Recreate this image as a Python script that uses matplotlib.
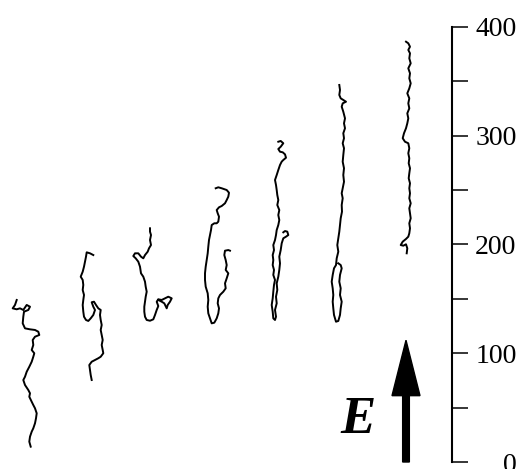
import numpy as np
import matplotlib
matplotlib.use('Agg')
import matplotlib.pyplot as plt
from matplotlib.patches import FancyArrow

plt.rcParams['font.family'] = ['Liberation Serif', 'DejaVu Serif']

# traced paths, x in arbitrary lateral units, y on the right-hand scale
x1 = [16.7, 15, 12.7, 16.7, 20, 23.3, 26.7, 30, 28.3, 24, 23.3, 22.7, 25, 30, 35, 38.3, 39.3, 35,
      32.7, 33.3, 31.7, 34.3, 33.3, 31.7, 29.3, 26.7, 25, 23.3, 25, 28.3, 30, 29.3, 31.7, 33.3,
      35, 36.7, 36, 35, 33.3, 31.7, 30, 29.3, 30.7]
y1 = [149.0, 144.4, 141.3, 140.4, 141.3, 139.8, 144.4, 142.8, 139.8, 138.2, 133.6, 127.5, 122.9,
      122.0, 121.4, 119.8, 116.8, 115.2, 112.2, 107.6, 103.0, 100.0, 96.8, 92.2, 87.6, 83.0,
      78.4, 75.4, 70.8, 66.2, 63.2, 60.0, 55.4, 52.4, 49.4, 44.8, 40.2, 35.6, 31.0, 27.9, 23.3,
      18.7, 14.1]

x2 = [93.3, 90, 86.7, 86, 85, 84, 82.7, 80.7, 82.7, 83.3, 82.7, 84, 83.3, 82.7, 83.3, 84, 86,
      88.3, 90.7, 93.3, 95, 93.3, 91.7, 94, 96, 98.3, 100.7, 100, 100.7, 101.7, 100.7, 101.7,
      102.7, 101.7, 102.7, 103.3, 100.7, 98.3, 95, 91.7, 89.3, 90, 90.7, 91.7]
y2 = [190.3, 191.9, 192.8, 188.8, 184.2, 179.6, 175.0, 170.4, 167.4, 162.8, 158.2, 153.6, 149.0,
      144.4, 138.2, 133.6, 130.6, 129.7, 132.1, 135.2, 139.8, 142.8, 146.9, 147.4, 144.4, 141.3,
      139.8, 135.2, 130.6, 126.0, 121.4, 116.8, 112.2, 107.6, 103.0, 100.0, 96.8, 95.4, 93.8,
      92.2, 89.2, 84.6, 80.0, 75.4]

x3 = [150, 150, 151, 150, 151, 149, 147.7, 145, 143.3, 141, 138.3, 135, 133.3, 135.7, 138.3, 140,
      141, 143.3, 145, 145.7, 146.7, 145.7, 145, 144.3, 144.3, 145, 146.7, 150, 153.3, 155, 156.7,
      158.3, 156.7, 158.3, 161.7, 165, 168.3, 171.7, 170, 167.7, 166.7, 164.3, 161.7, 158.3]
y3 = [214.9, 211.8, 208.7, 204.1, 199.5, 196.5, 193.4, 190.3, 187.3, 188.8, 191.9, 191.9, 189.4,
      187.3, 184.2, 179.6, 173.5, 170.4, 165.8, 161.2, 156.6, 152.0, 147.4, 142.8, 138.2, 133.6,
      130.6, 129.9, 131.2, 135.2, 139.8, 143.4, 147.4, 149.6, 149.0, 150.5, 152.0, 150.5, 147.4,
      144.4, 141.3, 145.9, 147.4, 149.0]

x4 = [215.7, 218.3, 221.7, 226.7, 229, 228.3, 226.7, 225, 221.7, 219, 216.7, 217.7, 219, 218.3,
      216.7, 214.3, 211.7, 211, 210, 209, 208.3, 207.7, 206.7, 205.7, 205, 205, 205.7, 207.7,
      208.3, 207.7, 208.3, 210, 211.7, 214.3, 216.7, 218.3, 219, 217.7, 218.3, 220, 223.3, 225.7,
      225, 226.7, 228.3, 225.7, 226.7, 225.7, 224.3, 225, 228.3, 230]
y4 = [251.7, 252.6, 251.7, 250.1, 247.6, 244.0, 240.9, 237.9, 235.4, 234.2, 231.7, 228.7, 225.6,
      221.0, 219.5, 219.5, 217.9, 213.3, 208.7, 204.1, 198.0, 191.9, 185.7, 179.6, 173.5, 167.4,
      161.2, 155.1, 149.0, 142.8, 136.7, 132.1, 127.5, 128.1, 132.1, 136.7, 141.3, 145.9, 150.5,
      153.6, 156.6, 159.7, 164.3, 168.9, 173.5, 176.6, 181.1, 185.7, 190.3, 194.3, 194.9, 194.3]

x5 = [278.3, 280.7, 283.3, 280.7, 278.3, 280, 282.7, 285, 286, 283.3, 281.7, 280, 278.3, 276.7,
      275, 276, 276.7, 277.3, 278.3, 277.3, 279.3, 278.3, 279.3, 278.3, 276.7, 276, 275, 273.3,
      274, 272.7, 273.3, 272.7, 274, 273.3, 275, 274, 273.3, 272.7, 271.7, 272.7, 273.3, 275,
      276, 275, 276.7, 276, 277.3, 276.7, 278.3, 279.3, 280, 279.3, 280.7, 281.7, 283.3, 286,
      288.3, 287.3, 285, 283.3]
y5 = [294.5, 295.2, 293.1, 289.9, 287.8, 285.3, 284.8, 282.9, 279.8, 277.7, 276.2, 273.1, 268.5,
      263.9, 259.3, 254.7, 250.1, 245.5, 240.9, 236.3, 231.7, 227.1, 222.5, 217.9, 213.3, 208.7,
      204.1, 199.5, 194.9, 190.3, 185.7, 181.1, 176.6, 172.0, 167.4, 162.8, 156.6, 150.5, 144.4,
      138.2, 132.1, 130.6, 133.6, 139.8, 145.9, 152.0, 158.2, 164.3, 170.4, 176.6, 182.7, 188.8,
      194.9, 201.1, 205.7, 207.2, 208.7, 211.8, 212.4, 211.2]

x6 = [339.3, 340, 339.3, 340.7, 343.3, 346, 342.7, 341.7, 343.3, 345, 344, 345, 343.3, 344, 342.7,
      344, 343.3, 342.7, 344, 343.3, 344, 342.7, 341.7, 342.7, 341.7, 342, 340.7, 340, 339.3,
      338.3, 337.3, 338.3, 336.7, 336, 334, 332.7, 331.7, 332.7, 333.3, 332.7, 333.3, 334, 336,
      338.3, 340, 340.7, 341.7, 340, 340.7, 339.3, 340, 341.7, 340.7, 338.3]
y6 = [346.7, 342.1, 337.5, 334.4, 332.9, 331.3, 329.8, 326.7, 322.1, 316.0, 311.4, 306.9, 302.3,
      297.7, 293.1, 288.5, 282.3, 276.1, 270.1, 263.9, 257.7, 251.7, 247.1, 242.5, 236.3, 230.2,
      224.1, 217.9, 211.8, 205.7, 199.5, 193.4, 187.3, 181.1, 178.1, 172.0, 165.8, 159.7, 153.6,
      147.4, 141.3, 135.2, 129.0, 129.7, 135.2, 141.3, 147.4, 153.6, 159.7, 165.8, 172.0, 178.1,
      181.1, 182.7]

x7 = [406, 408.3, 410, 408.3, 410, 409.3, 410.7, 408.3, 410, 409.3, 410.7, 409.3, 407.3, 409.3,
      408.3, 409.3, 407.3, 408.3, 407.3, 406, 404, 402.7, 405, 408.3, 409.3, 408.3, 409.3, 408.7,
      410, 409.3, 408.7, 410, 409.3, 410, 409.3, 410.7, 409.3, 410, 410.7, 409.3, 410, 409.3,
      408.3, 406, 402.7, 400.7, 403.3, 406, 407.3, 406.7]
y7 = [386.5, 385.0, 381.9, 378.9, 375.8, 371.2, 366.6, 362.0, 357.4, 352.8, 348.2, 343.6, 339.0,
      334.4, 329.8, 325.2, 320.6, 316.0, 311.4, 306.9, 302.3, 297.7, 294.5, 293.1, 288.5, 283.9,
      279.3, 274.7, 270.1, 265.5, 260.9, 256.3, 251.7, 247.1, 242.5, 237.9, 233.3, 228.7, 224.1,
      219.5, 214.9, 210.3, 207.2, 205.1, 202.6, 199.5, 198.9, 200.2, 196.5, 191.9]

traces = [(x1, y1), (x2, y2), (x3, y3), (x4, y4), (x5, y5), (x6, y6), (x7, y7)]

major_ticks = [0, 100, 200, 300, 400]
minor_ticks = [50, 150, 250, 350]

fig = plt.figure(figsize=(5.18, 4.69), dpi=100)
ax = fig.add_axes([0, 7/469, 452/518, 435/469])

for tx, ty in traces:
    ax.plot(tx, ty, color='black', lw=1.4, solid_joinstyle='round')

# field arrow
ax.add_patch(FancyArrow(406, 0, 0, 112, width=6.7, head_width=28, head_length=51,
                        length_includes_head=True, color='black', clip_on=False))
ax.text(358, 27, 'E', fontsize=38, fontweight='bold', fontstyle='italic',
        ha='center', va='baseline')

ax.set_xlim(0, 452)
ax.set_ylim(0, 400)
for s in ['left', 'top', 'bottom']:
    ax.spines[s].set_visible(False)
ax.spines['right'].set_linewidth(1.5)
ax.xaxis.set_visible(False)
ax.yaxis.tick_right()
ax.set_yticks(major_ticks)
ax.set_yticks(minor_ticks, minor=True)
ax.tick_params(axis='y', which='both', direction='out', length=11.5, width=1.1)
ax.tick_params(axis='y', which='major', labelsize=20, pad=35)
for lab in ax.get_yticklabels():
    lab.set_horizontalalignment('right')

fig.savefig('out.png', dpi=100)
